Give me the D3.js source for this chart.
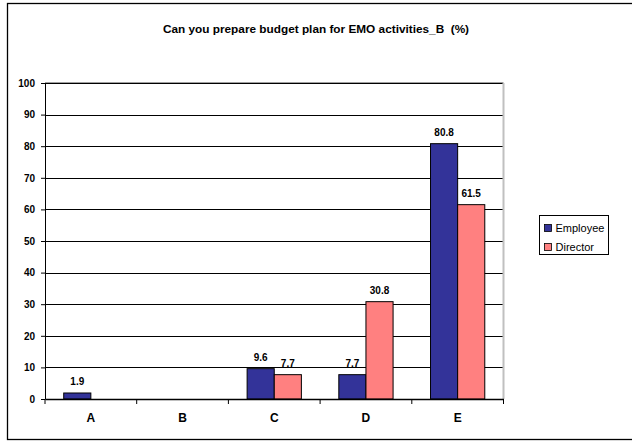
<!DOCTYPE html>
<html>
<head>
<meta charset="utf-8">
<script src="https://cdn.jsdelivr.net/npm/d3@7"></script>
<style>
  html, body { margin: 0; padding: 0; background: #fff; }
  svg { display: block; font-family: Arial, "Liberation Sans", sans-serif; }
</style>
</head>
<body>
<svg id="chart" width="632" height="441"></svg>
<script>
// Survey answers per response category
const categories = ["A", "B", "C", "D", "E"];
const seriesNames = ["Employee", "Director"];
const employeeValues = [1.9, 0, 9.6, 7.7, 80.8];
const directorValues = [0, 0, 7.7, 30.8, 61.5];
const yTicks = [0, 10, 20, 30, 40, 50, 60, 70, 80, 90, 100];
const titleText = "Can you prepare budget plan for EMO activities_B  (%)";

const colors = { Employee: "#333399", Director: "#FF8080" };

const svg = d3.select("#chart");

// Outer frame
svg.append("rect")
  .attr("x", 7.5).attr("y", 3.5)
  .attr("width", 640).attr("height", 436)
  .attr("fill", "#fff").attr("stroke", "#000").attr("stroke-width", 1.3);

const plot = { left: 45, right: 503.5, top: 83, bottom: 399 };

const x = d3.scaleBand().domain(categories)
  .range([plot.left, plot.right]).paddingInner(0).paddingOuter(0);
const inner = d3.scaleBand().domain(seriesNames)
  .range([0, x.bandwidth()]).paddingInner(0).paddingOuter(0.69);
const y = d3.scaleLinear().domain([0, 100]).range([plot.bottom, plot.top]);

// Horizontal gridlines
svg.append("g").selectAll("line").data(yTicks.filter(d => d > 0)).join("line")
  .attr("x1", plot.left).attr("x2", plot.right)
  .attr("y1", d => Math.round(y(d)) + 0.5).attr("y2", d => Math.round(y(d)) + 0.5)
  .attr("stroke", "#000").attr("stroke-width", 1);

// Plot area right border
svg.append("line")
  .attr("x1", plot.right).attr("x2", plot.right)
  .attr("y1", plot.top).attr("y2", plot.bottom)
  .attr("stroke", "#c0c0c0").attr("stroke-width", 2);
svg.append("line")
  .attr("x1", plot.left).attr("x2", plot.right)
  .attr("y1", plot.top - 0.5).attr("y2", plot.top - 0.5)
  .attr("stroke", "#a0a0a0").attr("stroke-width", 1);

// Bars
const rows = categories.map((c, i) => ({ cat: c, values: [
  { series: "Employee", value: employeeValues[i] },
  { series: "Director", value: directorValues[i] }
]}));

const groups = svg.append("g").selectAll("g").data(rows).join("g")
  .attr("transform", d => `translate(${x(d.cat)},0)`);

groups.selectAll("rect").data(d => d.values.filter(v => v.value > 0)).join("rect")
  .attr("x", d => inner(d.series))
  .attr("y", d => y(d.value))
  .attr("width", inner.bandwidth())
  .attr("height", d => y(0) - y(d.value))
  .attr("fill", d => colors[d.series])
  .attr("stroke", "#000").attr("stroke-width", 1);

groups.selectAll("text").data(d => d.values.filter(v => v.value > 0)).join("text")
  .attr("x", d => inner(d.series) + inner.bandwidth() / 2)
  .attr("y", d => y(d.value) - 8)
  .attr("text-anchor", "middle")
  .attr("font-size", 10).attr("font-weight", "bold")
  .text(d => d.value.toFixed(1));

// Y axis
const yAxis = svg.append("g")
  .attr("transform", `translate(${plot.left},0)`)
  .call(d3.axisLeft(y).tickValues(yTicks).tickSize(4).tickSizeOuter(0).tickPadding(6));
yAxis.select(".domain").attr("stroke", "#000");
yAxis.selectAll("text").attr("font-size", 10).attr("font-weight", "bold")
  .attr("font-family", "Arial, 'Liberation Sans', sans-serif");

// X axis
const xAxis = svg.append("g")
  .attr("transform", `translate(0,${plot.bottom})`)
  .call(d3.axisBottom(x).tickSize(0).tickPadding(14));
xAxis.select(".domain").attr("stroke", "#000").attr("stroke-width", 1.3);
xAxis.selectAll("text").attr("font-size", 12).attr("font-weight", "bold")
  .attr("font-family", "Arial, 'Liberation Sans', sans-serif");
// category boundary ticks
svg.append("g").selectAll("line")
  .data(categories.map(c => x(c)).concat([plot.right])).join("line")
  .attr("x1", d => d).attr("x2", d => d)
  .attr("y1", plot.bottom).attr("y2", plot.bottom + 5)
  .attr("stroke", "#000");

// Title
svg.append("text")
  .attr("x", 316).attr("y", 33)
  .attr("text-anchor", "middle")
  .attr("font-size", 11.8).attr("font-weight", "bold")
  .style("white-space", "pre")
  .text(titleText);

// Legend
const legend = svg.append("g").attr("transform", "translate(539.5,215.5)");
legend.append("rect").attr("width", 69).attr("height", 39)
  .attr("fill", "#fff").attr("stroke", "#000");
const items = legend.selectAll("g").data(seriesNames).join("g")
  .attr("transform", (d, i) => `translate(5,${9 + i * 19})`);
items.append("rect").attr("width", 7).attr("height", 7)
  .attr("fill", d => colors[d]).attr("stroke", "#000").attr("stroke-width", 0.8);
items.append("text").attr("x", 11).attr("y", 7.5)
  .attr("font-size", 11).text(d => d);
</script>
</body>
</html>
